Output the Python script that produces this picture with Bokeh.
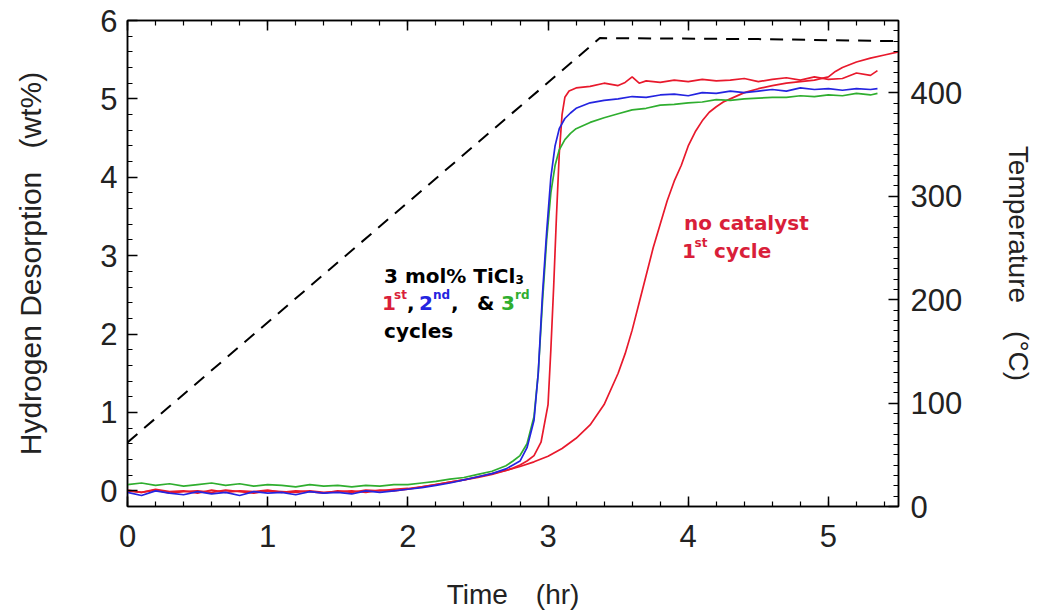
import numpy as np
from bokeh.plotting import figure
from bokeh.models import Range1d, LinearAxis, FixedTicker
from bokeh.core.properties import value
from bokeh.embed import file_html
from bokeh.resources import INLINE

# ---------------- data ----------------
base_t = [0.0, 0.1, 0.2, 0.3, 0.4, 0.5, 0.6, 0.7, 0.8, 0.9, 1.0, 1.1, 1.2, 1.3, 1.4,
          1.5, 1.6, 1.7, 1.8, 1.9, 2.0, 2.1, 2.2, 2.3, 2.4, 2.5, 2.6, 2.7]

# catalysed, 1st cycle (red)
cyc1_t = base_t + [2.75, 2.8, 2.85, 2.9, 2.95, 3.0, 3.02, 3.04, 3.06, 3.08, 3.1, 3.12,
                   3.15, 3.2, 3.3, 3.4, 3.5, 3.55, 3.6, 3.65, 3.7, 3.8, 3.9, 4.0, 4.1,
                   4.2, 4.3, 4.4, 4.5, 4.6, 4.7, 4.8, 4.9, 5.0, 5.1, 5.2, 5.3, 5.35]
cyc1_h = [0.01, -0.02, 0.02, -0.01, 0.0, -0.03, 0.01, -0.02, 0.0, -0.01, 0.01, -0.02,
          0.0, -0.01, -0.03, 0.0, -0.02, 0.01, 0.0, 0.02, 0.03, 0.05, 0.08, 0.11, 0.14,
          0.18, 0.22, 0.26,
          0.29, 0.33, 0.38, 0.45, 0.62, 1.1, 1.8, 2.6, 3.5, 4.3, 4.8, 5.02, 5.1, 5.14,
          5.16, 5.2, 5.17, 5.21, 5.28, 5.2, 5.23, 5.21, 5.24, 5.22, 5.25, 5.23, 5.24,
          5.26, 5.22, 5.25, 5.27, 5.24, 5.28, 5.25, 5.26, 5.33, 5.3, 5.36]

# catalysed, 2nd cycle (blue)
cyc2_t = base_t + [2.75, 2.8, 2.85, 2.9, 2.93, 2.96, 2.99, 3.02, 3.05, 3.08, 3.12, 3.16,
                   3.2, 3.3, 3.4, 3.5, 3.6, 3.7, 3.8, 3.9, 4.0, 4.1, 4.2, 4.3, 4.4, 4.5,
                   4.6, 4.7, 4.8, 4.9, 5.0, 5.1, 5.2, 5.3, 5.35]
cyc2_h = [-0.02, -0.06, 0.0, -0.03, -0.05, -0.01, -0.04, -0.02, -0.06, -0.01, -0.03,
          -0.02, -0.05, -0.01, -0.03, -0.02, -0.04, 0.0, -0.02, 0.0, 0.02, 0.04, 0.07,
          0.1, 0.14, 0.18, 0.22, 0.28,
          0.33, 0.38, 0.55, 0.9, 1.5, 2.5, 3.3, 4.0, 4.4, 4.62, 4.75, 4.82, 4.88, 4.95,
          4.98, 5.0, 5.03, 5.02, 5.05, 5.06, 5.04, 5.08, 5.07, 5.1, 5.08, 5.1, 5.12,
          5.1, 5.14, 5.12, 5.13, 5.11, 5.13, 5.12, 5.13]

# catalysed, 3rd cycle (green)
cyc3_t = base_t + [2.75, 2.8, 2.85, 2.9, 2.93, 2.96, 2.99, 3.02, 3.05, 3.08, 3.12, 3.16,
                   3.2, 3.3, 3.4, 3.5, 3.6, 3.7, 3.8, 3.9, 4.0, 4.1, 4.2, 4.3, 4.4, 4.5,
                   4.6, 4.7, 4.8, 4.9, 5.0, 5.1, 5.2, 5.3, 5.35]
cyc3_h = [0.08, 0.1, 0.07, 0.09, 0.06, 0.08, 0.1, 0.07, 0.09, 0.06, 0.08, 0.07, 0.05,
          0.08, 0.06, 0.07, 0.05, 0.07, 0.06, 0.08, 0.08, 0.1, 0.12, 0.15, 0.17, 0.21,
          0.25, 0.32,
          0.38, 0.45, 0.6, 0.95, 1.5, 2.4, 3.2, 3.8, 4.15, 4.35, 4.48, 4.56, 4.62, 4.7,
          4.76, 4.81, 4.86, 4.88, 4.92, 4.93, 4.95, 4.96, 4.99, 4.98, 5.0, 5.01, 5.02,
          5.02, 5.04, 5.03, 5.05, 5.04, 5.07, 5.05, 5.07]

# no catalyst, 1st cycle (red)
noc_t = base_t[:27] + [2.7, 2.8, 2.9, 3.0, 3.1, 3.2, 3.3, 3.4, 3.5, 3.55, 3.6, 3.65,
                       3.7, 3.75, 3.8, 3.85, 3.9, 3.95, 4.0, 4.05, 4.1, 4.15, 4.2, 4.25,
                       4.3, 4.4, 4.5, 4.6, 4.7, 4.8, 4.9, 5.0, 5.05, 5.1, 5.2, 5.3, 5.4,
                       5.5]
noc_h = [0.0, -0.02, 0.01, -0.03, -0.01, 0.0, -0.02, 0.01, -0.01, -0.03, 0.0, -0.01,
         -0.02, 0.0, -0.02, -0.01, 0.0, -0.02, 0.01, 0.0, 0.02, 0.05, 0.08, 0.11, 0.14,
         0.17, 0.21,
         0.26, 0.31, 0.37, 0.44, 0.54, 0.67, 0.84, 1.1, 1.5, 1.75, 2.05, 2.4, 2.75,
         3.1, 3.4, 3.7, 3.95, 4.15, 4.4, 4.58, 4.72, 4.83, 4.9, 4.96, 5.0, 5.08, 5.13,
         5.17, 5.2, 5.22, 5.24, 5.28, 5.35, 5.4, 5.47, 5.52, 5.56, 5.6]

# temperature programme (dashed, right axis)
temp_t = [0.0, 3.37, 4.5, 5.5]
temp_c = [62, 453, 452, 450]

x_ticks = [0, 1, 2, 3, 4, 5]
h_ticks = [0, 1, 2, 3, 4, 5, 6]
temp_ticks = [0, 100, 200, 300, 400]

# ---------------- styles ----------------
RED = "#e8192c"
TRED = "#d91f3a"
BLUE = "#2424e0"
GREEN = "#2fae2f"
FONT = "Liberation Sans"
NOTE_FONT = "DejaVu Sans"
TICK_SIZE = "31px"

p = figure(width=1042, height=614, output_backend="svg", toolbar_location=None,
           x_range=Range1d(0, 5.5), y_range=Range1d(-0.2, 6),
           min_border_left=127, min_border_right=144, min_border_top=20,
           min_border_bottom=108, background_fill_color="white",
           border_fill_color="white")
p.extra_y_ranges = {"temp": Range1d(0, 470)}
p.grid.visible = False
p.outline_line_color = "black"
p.outline_line_width = 1.5

bottom = p.below[0]
left = p.left[0]
right = LinearAxis(y_range_name="temp")
top = LinearAxis()
p.add_layout(right, "right")
p.add_layout(top, "above")

x_minor = [round(v, 2) for v in np.arange(0, 5.51, 0.2)]
h_minor = [round(v, 2) for v in np.arange(-0.2, 6.01, 0.2)]
t_minor = list(range(0, 471, 10))

bottom.ticker = FixedTicker(ticks=x_ticks, minor_ticks=x_minor)
top.ticker = FixedTicker(ticks=x_ticks, minor_ticks=x_minor)
left.ticker = FixedTicker(ticks=h_ticks, minor_ticks=h_minor)
right.ticker = FixedTicker(ticks=temp_ticks, minor_ticks=t_minor)

for ax in [bottom, left, right, top]:
    ax.axis_line_width = 1.5
    ax.axis_line_color = "black"
    ax.major_tick_in = 10
    ax.major_tick_out = 0
    ax.minor_tick_in = 5
    ax.minor_tick_out = 0
    ax.major_tick_line_width = 1.5
    ax.minor_tick_line_width = 1.2
    ax.major_tick_line_color = "black"
    ax.minor_tick_line_color = "black"
    ax.major_label_text_font = FONT
    ax.major_label_text_font_size = TICK_SIZE
    ax.major_label_text_color = "#222222"
    ax.axis_label_text_font = FONT
    ax.axis_label_text_font_style = "normal"
    ax.axis_label_text_color = "#222222"

top.major_label_overrides = {t: "" for t in x_ticks}
top.major_label_standoff = 0

bottom.major_label_standoff = 18
bottom.axis_label = "Time\u2003(hr)"
bottom.axis_label_text_font_size = "28px"
bottom.axis_label_standoff = 29

left.major_label_standoff = 10
left.axis_label = "Hydrogen Desorption\u2002\u00a0(wt%)"
left.axis_label_text_font_size = "30px"
left.axis_label_standoff = 50

right.major_label_standoff = 12
right.axis_label = "Temperature\u2003(\u00b0C)"
right.axis_label_text_font_size = "28px"
right.axis_label_standoff = 38

# ---------------- curves ----------------
p.line(temp_t, temp_c, y_range_name="temp", line_color="black", line_width=2,
       line_dash="13 9")
p.line(noc_t, noc_h, line_color=RED, line_width=1.7)
p.line(cyc1_t, cyc1_h, line_color=RED, line_width=1.7)
p.line(cyc3_t, cyc3_h, line_color=GREEN, line_width=1.7)
p.line(cyc2_t, cyc2_h, line_color=BLUE, line_width=1.7)

# ---------------- annotations ----------------
ax0, ay = 1.83, [2.745, 2.39, 2.04]
big = dict(text_font=value(NOTE_FONT), text_font_style="bold", text_font_size="20px",
           text_baseline="alphabetic", text_align="left")
small = dict(text_font=value(NOTE_FONT), text_font_style="bold", text_font_size="12px",
             text_baseline="alphabetic", text_align="left")

p.text(x=[ax0, ax0], y=[ay[0], ay[2]], text=["3 mol% TiCl", "cycles"],
       x_offset=[0, 0], text_color="black", **big)
p.text(x=[ax0], y=[ay[0]], text=["3"], x_offset=[131.5], y_offset=[4],
       text_color="black", **small)
p.text(x=[ax0] * 6, y=[ay[1]] * 6, text=["1", ",", "2", ",", "&", "3"],
       x_offset=[-2, 23, 35, 67, 93, 117],
       text_color=[TRED, "black", BLUE, "black", "black", GREEN], **big)
p.text(x=[ax0] * 3, y=[ay[1]] * 3, text=["st", "nd", "rd"],
       x_offset=[10, 49, 131], y_offset=[-8, -8, -8],
       text_color=[TRED, BLUE, GREEN], **small)

bx0, by = 3.97, [3.42, 3.06]
p.text(x=[bx0, bx0, bx0], y=[by[0], by[1], by[1]], text=["no catalyst", "1", "cycle"],
       x_offset=[0, -2, 30], text_color=TRED, **big)
p.text(x=[bx0], y=[by[1]], text=["st"], x_offset=[10.5], y_offset=[-8],
       text_color=TRED, **small)

open("out.html", "w").write(file_html(p, INLINE))
